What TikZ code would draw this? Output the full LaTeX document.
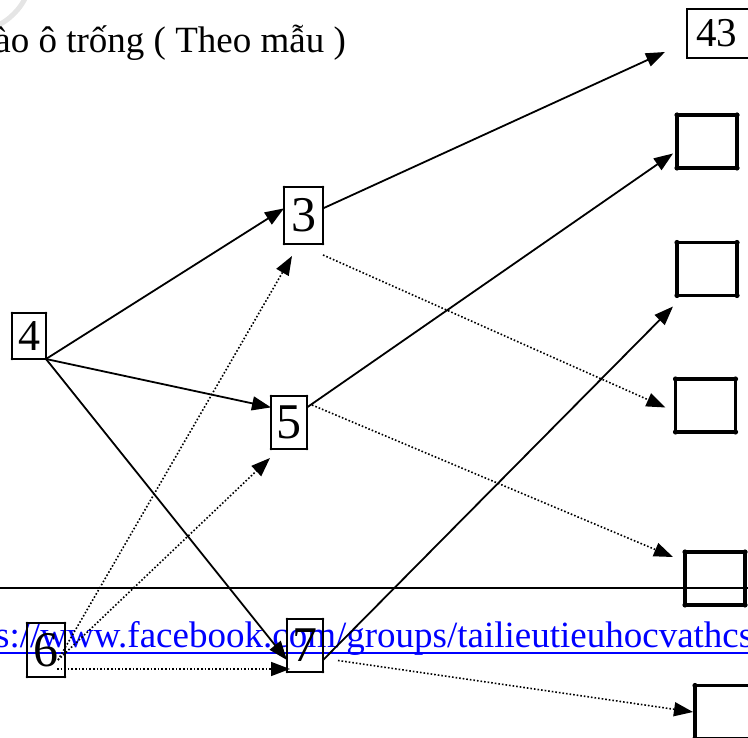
\documentclass[tikz,border=0pt]{standalone}
\usepackage{fontspec}
\setmainfont{Liberation Serif}
\usetikzlibrary{calc, arrows.meta}
\tikzset{
  numbox/.style={draw, line width=1.4pt, inner sep=0pt, outer sep=0pt, font=\fontsize{50}{50}\selectfont},
  ansbox/.style={draw, line width=3.2pt, inner sep=0pt, outer sep=0pt, minimum width=60pt, minimum height=53pt},
  arr/.style={line width=1.8pt, -{Triangle[length=19pt,width=14pt]}},
  dotarr/.style={line width=1.6pt, dash pattern=on 1.6pt off 2pt, -{Triangle[length=19pt,width=14pt]}}
}
\begin{document}
\begin{tikzpicture}[x=1pt,y=-1pt]
            \useasboundingbox (0,0) rectangle (748,738);
            \draw[gray!20, line width=5pt] (-30,-30) circle (62);
            \node[anchor=base east, inner sep=0pt, font=\fontsize{37}{37}\selectfont] (title) at (346,53) {ào ô trống ( Theo mẫu )};
            \node[anchor=base west, inner sep=0pt, text=blue, font=\fontsize{37}{37}\selectfont] (url) at (-5,647) {s://www.facebook.com/groups/tailieutieuhocvathcs};
            \draw[blue, line width=1.6pt] ($(url.base west)+(0,6)$) -- ($(url.base east)+(0,6)$);
            \draw[line width=1.4pt] (0,588) -- (748,588);
            % given numbers
            \node[numbox, minimum width=34pt, minimum height=46pt, font=\fontsize{44}{44}\selectfont] (n4) at (29,336) {4};
            \node[numbox, minimum width=39pt, minimum height=57pt] (n3) at (303.5,215.5) {3};
            \node[numbox, minimum width=36pt, minimum height=53pt] (n5) at (289,422.5) {5};
            \node[numbox, minimum width=38pt, minimum height=54pt] (n6) at (46,650) {6};
            \node[numbox, minimum width=36pt, minimum height=53pt] (n7) at (305,645.5) {7};
            \node[numbox, anchor=west, minimum height=49pt, text width=58pt, align=left, inner xsep=9pt, font=\fontsize{41}{41}\selectfont] (r43) at (687,33.5) {43};
            % empty boxes
            \node[ansbox] (a1) at (707,141.5) {};
            \node[ansbox] (a2) at (707,269) {};
            \node[ansbox] (a3) at (705.5,405.5) {};
            \node[ansbox] (a4) at (715,578.5) {};
            \node[ansbox] (a5) at (725,712) {};
            \foreach \b in {a1,a2,a3,a4,a5}{
                \foreach \c in {north west,north east,south west,south east}
                    \fill (\b.\c) circle (2.6pt);
            }
            \foreach \b in {n3,n4,n5,n6,n7}{
                \foreach \c in {north west,north east,south west,south east}
                    \fill (\b.\c) circle (1.4pt);
            }
            % solid arrows
            \draw[arr] (n4.south east) -- (n3.160);
            \draw[arr] (n4.south east) -- (n5.140);
            \draw[arr] (n4.south east) -- (n7.219);
            \draw[arr] (n3.20) -- ($(r43.south west)+(-22,-6)$);
            \draw[arr] (n5.40) -- ($(a1.west)+(-4,12)$);
            \draw[arr] (n7.-39) -- ($(a2.south west)+(-4,11)$);
            % dotted arrows
            \coordinate (s6) at ($(n6.south east)+(-7,-17)$);
            \draw[dotarr] ($(n3.south east)+(0,11)$) -- ($(a3.west)+(-10,2)$);
            \draw[dotarr] ($(n5.north east)+(5,9)$) -- ($(a4.north west)+(-12,5)$);
            \draw[dotarr] ($(n7.east)+(15,15)$) -- ($(a5.west)+(-2,0)$);
            \draw[dotarr] (s6) -- ($(n3.south west)+(8,12)$);
            \draw[dotarr] (s6) -- ($(n5.south west)+(-1,9)$);
            \draw[dotarr] ($(n6.south east)+(-8,-8)$) -- ($(n7.south west)+(3,-3)$);
        \end{tikzpicture}
\end{document}
